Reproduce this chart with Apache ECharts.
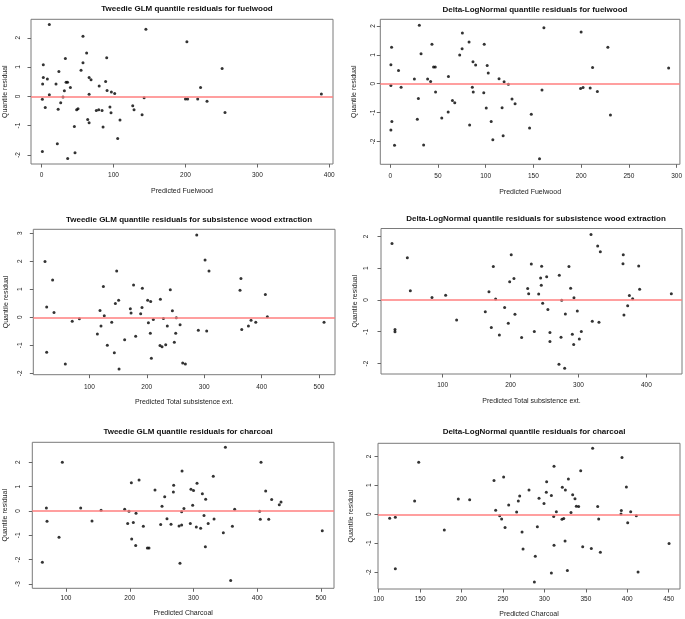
<!DOCTYPE html>
<html>
<head>
<meta charset="utf-8">
<script src="https://cdn.jsdelivr.net/npm/echarts@6/dist/echarts.min.js"></script>
<style>
html,body{margin:0;padding:0;background:#fff;}
#chart{width:685px;height:619px;}
</style>
</head>
<body>
<div id="chart"></div>
<script>
// ---- Data ----
const titles = [
  "Tweedie GLM quantile residuals for fuelwood",
  "Delta-LogNormal quantile residuals for fuelwood",
  "Tweedie GLM quantile residuals for subsistence wood extraction",
  "Delta-LogNormal quantile residuals for subsistence wood extraction",
  "Tweedie GLM quantile residuals for charcoal",
  "Delta-LogNormal quantile residuals for charcoal"
];
const xAxisNames = ["Predicted Fuelwood","Predicted Fuelwood","Predicted Total subsistence ext.","Predicted Total subsistence ext.","Predicted Charcoal","Predicted Charcoal"];
const yAxisName = "Quantile residual";

const xTicks1 = [0,100,200,300,400];
const xTicks2 = [0,50,100,150,200,250,300];
const xTicks3 = [100,200,300,400,500];
const xTicks4 = [100,200,300,400];
const xTicks5 = [100,200,300,400,500];
const xTicks6 = [100,150,200,250,300,350,400,450];
const yTicks1 = [-2,-1,0,1,2];
const yTicks2 = [-2,-1,0,1,2];
const yTicks3 = [-2,-1,0,1,2,3];
const yTicks4 = [-2,-1,0,1,2];
const yTicks5 = [-3,-2,-1,0,1,2];
const yTicks6 = [-2,-1,0,1,2];

const fuelTweedieX = [10.7,145,57.5,202,62.6,90.5,33,57.5,2.3,251,54.8,24,2.3,66,8,68.7,89,34,36,1.4,20,80,40,221,31.6,91,97,101.6,389,10.7,66,29.7,142.5,1,200,203,217,230,26.5,5,23,50.6,48.7,95,126.7,128.5,76,79.4,84,96.5,255,139.7,64,109,66,45.5,85.4,105.8,21.8,1,46.4,36.2];
const fuelTweedieY = [2.45,2.29,2.05,1.86,1.48,1.32,1.29,1.15,1.08,0.95,0.89,0.85,0.64,0.64,0.59,0.57,0.51,0.48,0.48,0.42,0.42,0.35,0.30,0.30,0.19,0.20,0.15,0.10,0.08,0.05,0.07,-0.02,-0.05,-0.10,-0.09,-0.09,-0.09,-0.17,-0.22,-0.38,-0.44,-0.42,-0.46,-0.36,-0.32,-0.46,-0.48,-0.46,-0.48,-0.56,-0.55,-0.63,-0.79,-0.81,-0.90,-1.03,-1.05,-1.44,-1.62,-1.88,-1.93,-2.12];

const fuelDeltaX = [30.5,161,200,75.6,82.6,43.7,98.5,1.4,228,75.3,32.3,72.8,86.7,0.7,89.5,101.6,45.4,47.2,212,291.7,8.7,102.7,61,25.3,39.2,114,42.3,119.3,123.8,0.7,11.4,86,202,199.4,209.5,159,217,47.5,87,98,29.5,127.6,65.2,67.6,130.8,100.6,117.2,60.7,147.8,230.7,54,28.4,1.7,105.8,83.2,146,0.7,118.3,107.5,4.5,35,156.4];
const fuelDeltaY = [2.02,1.94,1.79,1.76,1.44,1.37,1.37,1.26,1.26,1.21,1.04,0.99,0.76,0.66,0.65,0.63,0.58,0.58,0.56,0.54,0.46,0.37,0.25,0.16,0.16,0.17,0.08,0.07,-0.02,-0.06,-0.12,-0.12,-0.13,-0.17,-0.15,-0.22,-0.27,-0.29,-0.29,-0.31,-0.51,-0.53,-0.58,-0.66,-0.69,-0.84,-0.83,-0.98,-1.06,-1.08,-1.19,-1.23,-1.31,-1.31,-1.43,-1.53,-1.60,-1.80,-1.94,-2.13,-2.12,-2.60];

const subsTweedieX = [287,22.8,301.5,308.4,147.6,36,364,177,124.4,192.3,362.4,241,406.5,223.7,151,201.6,206.8,145.3,171.4,191.7,25.7,118.6,244.6,38.5,172.6,189.4,126,410,82.6,229,251.5,211.4,70.2,381.6,139,389.8,508.7,202.8,258,120.3,235.8,377,365.4,289.8,304.4,206.2,250.4,114,180.7,161.5,248,131.3,223,226.6,233,25.7,143.5,208,262.6,267.2,58.2,151.7];
const subsTweedieY = [2.94,1.99,2.04,1.65,1.65,1.33,1.38,1.15,1.10,1.04,0.96,0.98,0.81,0.64,0.61,0.61,0.56,0.49,0.30,0.35,0.37,0.24,0.23,0.17,0.15,0.13,0.05,0.02,-0.05,-0.04,-0.02,-0.08,-0.14,-0.11,-0.18,-0.18,-0.18,-0.20,-0.27,-0.31,-0.31,-0.31,-0.44,-0.46,-0.49,-0.57,-0.57,-0.60,-0.68,-0.80,-0.89,-1.00,-1.01,-1.05,-0.98,-1.25,-1.27,-1.46,-1.63,-1.67,-1.67,-1.85];

const subsDeltaX = [318.5,25.4,328.3,332.2,366,201,48,365.6,230.6,388.7,245.8,286,174.6,271.8,253.2,244.3,205,198.7,245.3,225.2,288.5,390.1,52.4,168.2,226.7,241.4,436.8,375,293.4,379.8,84.3,104.4,178,275.3,247.3,372.5,191.3,255,298.3,162.8,280.7,206.5,367,120.6,320.4,330.2,196.7,171.7,29.8,29.8,304.2,235,258,183.5,291,216.3,274.3,301.3,258,293,271.3,279.7];
const subsDeltaY = [2.06,1.78,1.70,1.52,1.42,1.42,1.33,1.14,1.13,1.07,1.06,1.05,1.05,0.78,0.73,0.69,0.68,0.57,0.46,0.36,0.37,0.34,0.29,0.26,0.20,0.19,0.20,0.14,0.07,0.04,0.08,0.15,0.03,-0.01,-0.10,-0.18,-0.24,-0.30,-0.35,-0.37,-0.44,-0.45,-0.47,-0.63,-0.67,-0.70,-0.73,-0.87,-0.93,-1.00,-0.99,-0.99,-1.02,-1.10,-1.08,-1.18,-1.17,-1.23,-1.31,-1.40,-2.02,-2.15];

const charTweedieX = [350,94.2,405.9,282,331,214.6,202.5,305.5,268.9,296,239.6,300,413.2,268.4,313.9,254.8,319.1,422.6,437.3,434.6,298.7,250.6,69.2,123,285,192,364.6,155,198.8,403.8,281.4,209.8,316.5,404.8,418,332.2,258.4,70.2,140.8,205.6,196.7,248.5,264.7,295,281.4,277.3,221.3,323,304.4,311.2,361,346.8,89,203,209.3,318.6,227.6,230.2,62.9,278.8,358.3,502];
const charTweedieY = [2.62,2.00,2.00,1.64,1.42,1.27,1.16,1.14,1.05,0.89,0.86,0.84,0.82,0.78,0.71,0.58,0.48,0.47,0.37,0.25,0.23,0.19,0.12,0.12,0.10,0.07,0.07,0.03,-0.01,-0.01,-0.03,-0.10,-0.19,-0.34,-0.34,-0.33,-0.32,-0.42,-0.41,-0.48,-0.52,-0.56,-0.55,-0.52,-0.58,-0.62,-0.63,-0.52,-0.66,-0.71,-0.63,-0.90,-1.08,-1.15,-1.42,-1.47,-1.52,-1.52,-2.11,-2.15,-2.86,-0.82];

const charDeltaX = [358.2,393.6,148.3,311.6,343.8,250.8,328.9,239.2,302.7,398.9,321.6,281.4,325.3,302.3,334.1,308.4,270.2,293.5,336.9,196.1,209.8,143.4,268.5,299.5,256.9,338.5,341.3,364.3,241.2,392.8,266.5,314.4,404.1,332.1,392.4,246,410.9,113.3,120.1,311.2,248.4,323.3,321.2,365.5,400.5,252.5,291.5,179.2,273,324.9,450.4,311.6,346.2,356.6,274.2,367.5,289,120.1,327.7,413,308.4,287.9];
const charDeltaY = [2.28,1.96,1.80,1.66,1.50,1.29,1.22,1.17,1.12,0.94,0.93,0.84,0.84,0.76,0.67,0.65,0.63,0.55,0.54,0.53,0.50,0.46,0.46,0.37,0.32,0.28,0.27,0.27,0.14,0.13,0.08,0.09,0.09,0.06,0.01,-0.05,-0.05,-0.14,-0.10,-0.08,-0.16,-0.15,-0.17,-0.16,-0.29,-0.46,-0.43,-0.54,-0.61,-0.92,-1.01,-1.07,-1.12,-1.18,-1.20,-1.31,-1.45,-1.88,-1.94,-1.99,-2.03,-2.34];

// ---- Layout / styling (not data) ----
const panels = [
  {x: fuelTweedieX, y: fuelTweedieY, xt: xTicks1, yt: yTicks1, xr:[-14.8,405.2], yr:[-2.31,2.63],
   g:{left:31, top:19.3, width:302, height:144.7}, tc:[182,0], xm:8, ym:9, xg:24, yg:22.5},
  {x: fuelDeltaX, y: fuelDeltaY, xt: xTicks2, yt: yTicks2, xr:[-10.4,303.5], yr:[-2.79,2.23],
   g:{left:380.3, top:19.3, width:301.7, height:145}, tc:[530,1], xm:8, ym:4, xg:24.5, yg:22.5},
  {x: subsTweedieX, y: subsTweedieY, xt: xTicks3, yt: yTicks3, xr:[2.4,527.8], yr:[-2.05,3.14],
   g:{left:33.3, top:229.3, width:301.7, height:145.4}, tc:[184,210.5], xm:9, ym:9.5, xg:23.5, yg:23.5},
  {x: subsDeltaX, y: subsDeltaY, xt: xTicks4, yt: yTicks4, xr:[9.2,452.5], yr:[-2.33,2.25],
   g:{left:381, top:228.5, width:301, height:145.5}, tc:[531,209.5], xm:7.5, ym:11.5, xg:23.5, yg:22},
  {x: charTweedieX, y: charTweedieY, xt: xTicks5, yt: yTicks5, xr:[47.1,520.4], yr:[-3.18,2.82],
   g:{left:32.3, top:442.3, width:301.7, height:146}, tc:[183,422.5], xm:6.5, ym:10.5, xg:21.5, yg:23.5},
  {x: charDeltaX, y: charDeltaY, xt: xTicks6, yt: yTicks6, xr:[99.2,463.6], yr:[-2.58,2.45],
   g:{left:378, top:443.3, width:302, height:145.7}, tc:[529,422.5], xm:6.5, ym:5, xg:21.5, yg:23}
];

const FONT = "Liberation Sans, Arial, sans-serif";
const option = {
  backgroundColor: '#ffffff',
  animation: false,
  title: [], grid: [], xAxis: [], yAxis: [], series: []
};

panels.forEach((p, i) => {
  option.title.push({
    text: titles[i], left: p.tc[0], top: p.tc[1], textAlign: 'center',
    textStyle: {fontFamily: FONT, fontSize: 8, fontWeight: 'bold', color: '#111'}
  });
  option.grid.push(Object.assign({show: true, borderColor: '#7a7a7a', borderWidth: 1, backgroundColor: 'transparent', containLabel: false}, p.g));
  option.xAxis.push({
    type: 'value', gridIndex: i, min: p.xr[0], max: p.xr[1], position: 'bottom',
    name: xAxisNames[i], nameLocation: 'middle', nameGap: p.xg,
    nameTextStyle: {fontFamily: FONT, fontSize: 7, color: '#222'},
    axisLine: {show: false, onZero: false},
    axisTick: {show: true, inside: false, length: 3.5, customValues: p.xt, lineStyle: {color: '#666', width: 1}},
    axisLabel: {customValues: p.xt, margin: p.xm, fontFamily: FONT, fontSize: 6.5, color: '#222'},
    splitLine: {show: false}
  });
  option.yAxis.push({
    type: 'value', gridIndex: i, min: p.yr[0], max: p.yr[1], position: 'left',
    name: yAxisName, nameLocation: 'middle', nameGap: p.yg, nameRotate: 90,
    nameTextStyle: {fontFamily: FONT, fontSize: 7, color: '#222'},
    axisLine: {show: false, onZero: false},
    axisTick: {show: true, inside: false, length: 3.5, customValues: p.yt, lineStyle: {color: '#666', width: 1}},
    axisLabel: {customValues: p.yt, margin: p.ym, rotate: 90, fontFamily: FONT, fontSize: 6.5, color: '#222'},
    splitLine: {show: false}
  });
  option.series.push({
    type: 'scatter', xAxisIndex: i, yAxisIndex: i,
    data: p.x.map((v, k) => [v, p.y[k]]),
    symbol: 'circle', symbolSize: 3,
    itemStyle: {color: '#000'},
    markLine: {
      silent: true, symbol: ['none','none'], label: {show: false},
      lineStyle: {color: '#ff7f7f', width: 1.5, type: 'solid'},
      data: [{yAxis: 0}]
    },
    z: 3
  });
});

const chart = echarts.init(document.getElementById('chart'), null, {renderer: 'canvas'});
chart.setOption(option);
</script>
</body>
</html>
